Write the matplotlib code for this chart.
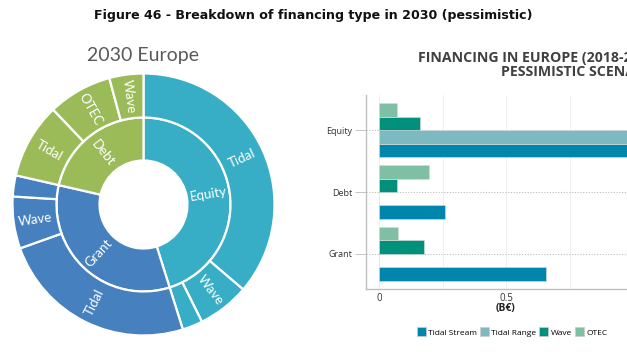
import matplotlib
matplotlib.use("Agg")
import matplotlib.pyplot as plt
import numpy as np

# ---- Sunburst data (share of 2030 financing, %) ----
inner_labels = ["Equity", "Grant", "Debt"]
inner_colors = ["#37AEC6", "#4680BE", "#9BBB59"]
outer_labels = ["Tidal", "Wave", "", "Tidal", "Wave", "", "Tidal", "OTEC", "Wave"]
outer_values = [36.2, 6.4, 2.5, 24.4, 6.4, 2.6, 9.3, 7.9, 4.2]
outer_parent = [0, 0, 0, 1, 1, 1, 2, 2, 2]

# ---- Bar chart data (B€) ----
bar_categories = ["Equity", "Debt", "Grant"]
series_names = ["Tidal Stream", "Tidal Range", "Wave", "OTEC"]
tidal_stream = [0.975, 0.26, 0.655]
tidal_range = [1.05, 0.0, 0.0]
wave = [0.16, 0.07, 0.175]
otec = [0.07, 0.198, 0.075]
series_colors = ["#0085AD", "#7CB9C0", "#00907C", "#7FBFA4"]

W, H = 627, 352
fig = plt.figure(figsize=(W / 100, H / 100), dpi=100)

fig.text(313 / W, 1 - 16 / H,
         "Figure 46 - Breakdown of financing type in 2030 (pessimistic)",
         ha="center", va="center", fontsize=9.1, fontweight="bold",
         family="DejaVu Sans", color="#111111")

# ---- Sunburst ----
cx, cy, R = 143.5, 204.5, 131
axp = fig.add_axes([(cx - R) / W, 1 - (cy + R) / H, 2 * R / W, 2 * R / H])
axp.set_xlim(-1, 1)
axp.set_ylim(-1, 1)
axp.set_aspect("equal")
axp.axis("off")

inner_values = [sum(v for v, p in zip(outer_values, outer_parent) if p == i)
                for i in range(len(inner_labels))]
outer_colors = [inner_colors[p] for p in outer_parent]

r_hole, r_mid, r_out = 44 / 131, 87 / 131, 1.0
wp = dict(edgecolor="white", linewidth=1.6)
axp.pie(inner_values, radius=r_mid, colors=inner_colors, startangle=90,
        counterclock=False, wedgeprops=dict(width=r_mid - r_hole, **wp))
axp.pie(outer_values, radius=r_out, colors=outer_colors, startangle=90,
        counterclock=False, wedgeprops=dict(width=r_out - r_mid, **wp))
axp.set_xlim(-1, 1)
axp.set_ylim(-1, 1)


def place_labels(values, labels, rad):
    total = sum(values)
    start = 0.0
    for v, lab in zip(values, labels):
        mid = (start + v / 2) / total * 360.0  # clockwise from top
        start += v
        if not lab:
            continue
        phi = 90.0 - mid
        x = rad * np.cos(np.radians(phi))
        y = rad * np.sin(np.radians(phi))
        rot = (phi + 180) % 360 - 180
        if rot > 90:
            rot -= 180
        elif rot < -90:
            rot += 180
        axp.text(x, y, lab, rotation=rot, rotation_mode="anchor",
                 ha="center", va="center", color="white", fontsize=9.5,
                 family="Lato")


place_labels(inner_values, inner_labels, (r_hole + r_mid) / 2)
place_labels(outer_values, outer_labels, (r_mid + r_out) / 2)

fig.text(143 / W, 1 - 55 / H, "2030 Europe", ha="center", va="center",
         fontsize=14, family="Lato", color="#595959")

# ---- Bar chart ----
x0_px, top_px, bot_px = 366, 95, 289
ax_w_px = 280
axb = fig.add_axes([x0_px / W, 1 - bot_px / H, ax_w_px / W, (bot_px - top_px) / H])
ypos = np.arange(len(bar_categories))
h = 0.218
data = [tidal_stream, tidal_range, wave, otec]
offsets = [1.5 * h, 0.5 * h, -0.5 * h, -1.5 * h]
for vals, col, off, name in zip(data, series_colors, offsets, series_names):
    axb.barh(ypos + off, vals, height=h, color=col, label=name,
             edgecolor="#dddddd", linewidth=0.4, zorder=3)

axb.set_ylim(2.57, -0.57)
axb.set_xlim(-0.051, 1.049)
axb.set_yticks(ypos)
axb.set_yticklabels(bar_categories, fontsize=6.5, family="Open Sans", color="#333333")
axb.set_xticks([0, 0.5])
axb.set_xticklabels(["0", "0.5"], fontsize=7, family="Open Sans", color="#333333")
axb.set_xticks([0.25, 0.75, 1.0], minor=True)
axb.tick_params(axis="x", which="both", length=0, pad=3)
axb.tick_params(axis="y", length=8, color="#bbbbbb", width=0.6, pad=2)
axb.grid(axis="x", which="both", color="#dddddd", linestyle=(0, (1, 1)), linewidth=0.6, zorder=0)
axb.grid(axis="y", color="#bbbbbb", linestyle=(0, (1, 1.5)), linewidth=0.8, zorder=0)
for s in ["top", "right"]:
    axb.spines[s].set_visible(False)
for s in ["left", "bottom"]:
    axb.spines[s].set_color("#bfbfbf")
    axb.spines[s].set_linewidth(1.0)
axb.set_xlabel("(B€)", fontsize=7.5, fontweight="bold", family="Open Sans",
               color="#222222", labelpad=-1)

fig.text(660 / W, 1 - 65 / H, "FINANCING IN EUROPE (2018-2030)\nPESSIMISTIC SCENARIO",
         ha="right", va="center", fontsize=10.2, fontweight="bold",
         family="Open Sans", color="#404040", linespacing=1.0)

handles = [plt.Rectangle((0, 0), 1, 1, facecolor=c, edgecolor="#cccccc", linewidth=0.5)
           for c in series_colors]
fig.legend(handles, series_names, loc="center", bbox_to_anchor=(512 / W, 1 - 332 / H),
           ncol=4, frameon=False, fontsize=6, handlelength=1.1, handleheight=1.3,
           handletextpad=0.3, columnspacing=0.3, prop=dict(family="Open Sans", size=6))

fig.savefig("out.png", dpi=100)
